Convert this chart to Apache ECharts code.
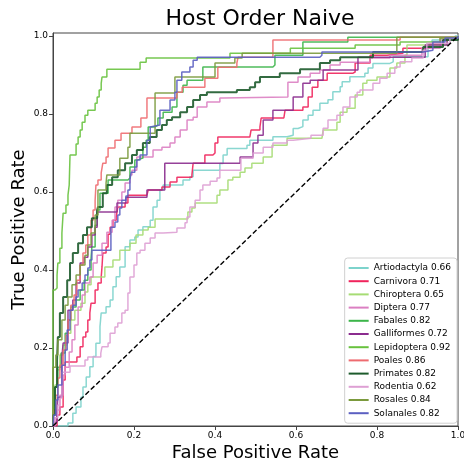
<!doctype html>
<html>
    <head>
        <meta charset="utf-8">
        <title>Host Order Naive</title>
        <style>
            html, body { margin: 0; padding: 0; background: #fff; }
            #main { width: 464px; height: 466px; }
        </style>
    </head>
    <body>
        <div id="main"></div>
        <script src="https://cdn.jsdelivr.net/npm/echarts@6/dist/echarts.min.js"></script>
        <script>
            // ROC curves, [fpr, tpr]
            var artiodactyla = [[0,0],[0.037,0.008],[0.049,0.033],[0.057,0.049],[0.069,0.074],[0.074,0.1],[0.082,0.126],[0.091,0.152],[0.099,0.178],[0.106,0.212],[0.116,0.255],[0.119,0.29],[0.131,0.306],[0.141,0.323],[0.148,0.357],[0.156,0.383],[0.165,0.408],[0.178,0.46],[0.19,0.477],[0.202,0.485],[0.21,0.503],[0.222,0.511],[0.24,0.528],[0.247,0.562],[0.257,0.579],[0.264,0.605],[0.272,0.618],[0.321,0.631],[0.338,0.639],[0.346,0.656],[0.412,0.673],[0.42,0.695],[0.43,0.712],[0.479,0.72],[0.486,0.733],[0.543,0.742],[0.578,0.746],[0.593,0.763],[0.605,0.768],[0.617,0.785],[0.63,0.797],[0.642,0.81],[0.659,0.828],[0.679,0.837],[0.691,0.857],[0.709,0.87],[0.714,0.883],[0.733,0.896],[0.77,0.905],[0.778,0.918],[0.79,0.93],[0.832,0.934],[0.84,0.947],[0.926,0.973],[0.936,0.99],[0.993,1],[1,1]];
            var carnivora = [[0,0],[0.01,0.028],[0.017,0.049],[0.025,0.118],[0.03,0.164],[0.059,0.177],[0.067,0.203],[0.074,0.228],[0.081,0.241],[0.086,0.272],[0.091,0.29],[0.094,0.315],[0.104,0.349],[0.111,0.367],[0.119,0.382],[0.121,0.408],[0.123,0.444],[0.131,0.459],[0.136,0.492],[0.141,0.51],[0.148,0.528],[0.156,0.536],[0.16,0.562],[0.178,0.572],[0.185,0.592],[0.232,0.597],[0.235,0.605],[0.269,0.613],[0.289,0.626],[0.306,0.638],[0.343,0.644],[0.346,0.674],[0.375,0.695],[0.395,0.7],[0.4,0.726],[0.407,0.741],[0.486,0.741],[0.489,0.759],[0.511,0.767],[0.514,0.79],[0.57,0.79],[0.573,0.81],[0.617,0.818],[0.63,0.844],[0.64,0.869],[0.654,0.887],[0.677,0.905],[0.741,0.908],[0.746,0.931],[0.783,0.951],[0.825,0.956],[0.864,0.969],[0.93,0.98],[0.956,0.995],[1,1]];
            var chiroptera = [[0,0],[0,0.054],[0.005,0.105],[0.01,0.144],[0.017,0.182],[0.025,0.208],[0.035,0.238],[0.044,0.272],[0.054,0.297],[0.069,0.315],[0.079,0.344],[0.086,0.362],[0.094,0.382],[0.128,0.408],[0.148,0.426],[0.165,0.451],[0.19,0.469],[0.205,0.49],[0.222,0.503],[0.235,0.51],[0.252,0.531],[0.333,0.549],[0.343,0.559],[0.351,0.572],[0.405,0.592],[0.412,0.605],[0.432,0.631],[0.444,0.638],[0.462,0.651],[0.474,0.662],[0.491,0.674],[0.519,0.69],[0.541,0.72],[0.578,0.738],[0.664,0.741],[0.667,0.759],[0.701,0.779],[0.709,0.805],[0.726,0.815],[0.746,0.849],[0.765,0.879],[0.775,0.887],[0.8,0.895],[0.832,0.918],[0.849,0.931],[0.869,0.951],[0.874,0.977],[0.973,0.995],[1,1]];
            var diptera = [[0,0],[0.005,0.021],[0.01,0.041],[0.017,0.079],[0.025,0.131],[0.03,0.151],[0.04,0.19],[0.047,0.221],[0.054,0.259],[0.062,0.305],[0.072,0.336],[0.079,0.367],[0.091,0.382],[0.099,0.418],[0.109,0.438],[0.121,0.469],[0.133,0.497],[0.146,0.528],[0.153,0.562],[0.16,0.579],[0.17,0.6],[0.178,0.623],[0.19,0.644],[0.195,0.656],[0.207,0.69],[0.247,0.708],[0.269,0.715],[0.289,0.726],[0.301,0.741],[0.314,0.759],[0.331,0.785],[0.346,0.792],[0.356,0.818],[0.38,0.831],[0.412,0.841],[0.42,0.844],[0.58,0.882],[0.605,0.895],[0.635,0.905],[0.659,0.913],[0.684,0.926],[0.709,0.933],[0.783,0.944],[0.832,0.951],[0.911,0.969],[0.956,0.99],[0.993,0.997],[1,1]];
            var fabales = [[0,0],[0.002,0.067],[0.005,0.1],[0.012,0.151],[0.02,0.187],[0.03,0.238],[0.037,0.272],[0.044,0.305],[0.057,0.323],[0.067,0.349],[0.077,0.374],[0.086,0.4],[0.094,0.431],[0.096,0.459],[0.104,0.515],[0.109,0.554],[0.116,0.597],[0.136,0.631],[0.185,0.636],[0.19,0.664],[0.202,0.682],[0.207,0.687],[0.222,0.715],[0.23,0.733],[0.235,0.767],[0.252,0.772],[0.259,0.79],[0.272,0.805],[0.294,0.818],[0.306,0.856],[0.321,0.874],[0.331,0.887],[0.37,0.921],[0.543,0.926],[0.548,0.951],[0.617,0.985],[0.728,0.997],[1,1]];
            var galliformes = [[0,0],[0.005,0.01],[0.01,0.041],[0.012,0.074],[0.022,0.177],[0.025,0.213],[0.037,0.297],[0.049,0.323],[0.057,0.367],[0.067,0.418],[0.077,0.433],[0.086,0.459],[0.096,0.49],[0.104,0.51],[0.109,0.549],[0.158,0.572],[0.18,0.587],[0.232,0.605],[0.276,0.674],[0.462,0.69],[0.494,0.726],[0.506,0.746],[0.519,0.785],[0.543,0.81],[0.593,0.844],[0.617,0.879],[0.635,0.887],[0.667,0.913],[0.753,0.946],[0.919,0.977],[0.973,0.995],[1,1]];
            var lepidoptera = [[0,0],[0,0.349],[0.005,0.354],[0.01,0.387],[0.012,0.418],[0.017,0.456],[0.022,0.495],[0.025,0.546],[0.032,0.567],[0.037,0.592],[0.04,0.618],[0.042,0.695],[0.057,0.723],[0.062,0.741],[0.067,0.759],[0.072,0.779],[0.079,0.797],[0.086,0.81],[0.104,0.828],[0.109,0.844],[0.114,0.862],[0.119,0.879],[0.121,0.895],[0.133,0.915],[0.215,0.933],[0.23,0.944],[0.437,0.956],[0.586,0.969],[0.746,0.977],[0.857,0.985],[0.956,0.995],[1,1]];
            var poales = [[0,0],[0.002,0.041],[0.007,0.079],[0.012,0.123],[0.017,0.156],[0.025,0.195],[0.032,0.233],[0.037,0.272],[0.044,0.31],[0.052,0.336],[0.059,0.374],[0.067,0.413],[0.074,0.444],[0.081,0.464],[0.086,0.49],[0.094,0.528],[0.099,0.554],[0.104,0.579],[0.106,0.618],[0.111,0.631],[0.119,0.649],[0.123,0.674],[0.131,0.69],[0.136,0.713],[0.153,0.733],[0.168,0.751],[0.195,0.767],[0.217,0.79],[0.232,0.841],[0.306,0.856],[0.319,0.869],[0.375,0.892],[0.407,0.92],[0.454,0.931],[0.457,0.946],[0.543,0.99],[0.857,0.997],[1,1]];
            var primates = [[0,0],[0,0.028],[0.005,0.1],[0.01,0.169],[0.012,0.228],[0.017,0.29],[0.025,0.331],[0.035,0.374],[0.042,0.418],[0.049,0.444],[0.062,0.469],[0.074,0.49],[0.084,0.51],[0.096,0.533],[0.109,0.554],[0.111,0.562],[0.123,0.597],[0.133,0.618],[0.146,0.638],[0.16,0.656],[0.178,0.674],[0.195,0.695],[0.207,0.708],[0.222,0.726],[0.239,0.741],[0.256,0.759],[0.269,0.772],[0.281,0.785],[0.294,0.792],[0.314,0.805],[0.331,0.818],[0.346,0.836],[0.363,0.849],[0.38,0.856],[0.454,0.862],[0.486,0.869],[0.499,0.882],[0.511,0.895],[0.56,0.905],[0.61,0.915],[0.659,0.931],[0.684,0.938],[0.709,0.946],[0.79,0.959],[0.914,0.972],[0.963,0.99],[1,1]];
            var rodentia = [[0,0],[0.005,0.021],[0.012,0.054],[0.017,0.072],[0.022,0.138],[0.042,0.154],[0.079,0.169],[0.086,0.177],[0.118,0.187],[0.121,0.203],[0.136,0.213],[0.141,0.238],[0.153,0.254],[0.16,0.264],[0.17,0.29],[0.178,0.297],[0.185,0.341],[0.19,0.382],[0.2,0.413],[0.207,0.444],[0.215,0.451],[0.227,0.469],[0.24,0.482],[0.252,0.495],[0.272,0.497],[0.306,0.508],[0.326,0.521],[0.331,0.536],[0.338,0.562],[0.351,0.579],[0.363,0.605],[0.37,0.618],[0.388,0.628],[0.405,0.636],[0.412,0.656],[0.464,0.687],[0.494,0.7],[0.519,0.715],[0.543,0.726],[0.578,0.733],[0.593,0.738],[0.637,0.746],[0.667,0.764],[0.679,0.785],[0.701,0.797],[0.716,0.818],[0.733,0.844],[0.751,0.856],[0.758,0.862],[0.79,0.879],[0.807,0.892],[0.825,0.905],[0.844,0.921],[0.857,0.934],[0.886,0.944],[0.914,0.964],[0.923,0.982],[0.98,0.995],[1,1]];
            var rosales = [[0,0],[0,0.151],[0.007,0.182],[0.012,0.221],[0.022,0.272],[0.03,0.31],[0.037,0.331],[0.047,0.362],[0.057,0.387],[0.067,0.413],[0.079,0.438],[0.086,0.464],[0.094,0.495],[0.104,0.541],[0.111,0.605],[0.131,0.623],[0.133,0.644],[0.165,0.687],[0.185,0.715],[0.19,0.751],[0.252,0.854],[0.301,0.895],[0.4,0.931],[0.449,0.944],[0.467,0.956],[0.849,0.997],[1,1]];
            var solanales = [[0,0],[0.002,0.028],[0.007,0.067],[0.012,0.105],[0.022,0.156],[0.03,0.195],[0.035,0.246],[0.042,0.297],[0.049,0.31],[0.057,0.331],[0.062,0.349],[0.072,0.367],[0.079,0.387],[0.086,0.405],[0.091,0.426],[0.096,0.451],[0.143,0.51],[0.153,0.523],[0.16,0.541],[0.165,0.559],[0.17,0.579],[0.18,0.59],[0.185,0.605],[0.19,0.631],[0.193,0.651],[0.202,0.664],[0.207,0.682],[0.215,0.695],[0.232,0.733],[0.24,0.767],[0.244,0.772],[0.264,0.81],[0.289,0.836],[0.301,0.856],[0.306,0.887],[0.318,0.908],[0.338,0.921],[0.346,0.938],[0.356,0.946],[0.659,0.951],[0.664,0.959],[0.914,0.964],[0.938,0.985],[0.968,0.995],[1,1]];

            var names = ['Artiodactyla', 'Carnivora', 'Chiroptera', 'Diptera', 'Fabales', 'Galliformes',
                'Lepidoptera', 'Poales', 'Primates', 'Rodentia', 'Rosales', 'Solanales'];
            var aucs = [0.66, 0.71, 0.65, 0.77, 0.82, 0.72, 0.92, 0.86, 0.82, 0.62, 0.84, 0.82];
            var curves = [artiodactyla, carnivora, chiroptera, diptera, fabales, galliformes,
                lepidoptera, poales, primates, rodentia, rosales, solanales];
            var colors = ['#7dd3cc', '#f0245c', '#a6dc74', '#db7fc2', '#3cb54a', '#8b2c8e',
                '#68c23e', '#ee6b70', '#1d5b2c', '#dea0d4', '#7b9a3d', '#5b5fc1'];
            var ticks = [0, 0.2, 0.4, 0.6, 0.8, 1.0];
            var chance = [[0, 0], [1, 1]];

            var font = 'DejaVu Sans';
            var chart = echarts.init(document.getElementById('main'), null, { renderer: 'canvas' });

            var series = curves.map(function (c, i) {
                return {
                    name: names[i] + ' ' + aucs[i].toFixed(2),
                    type: 'line',
                    step: 'end',
                    data: c,
                    symbol: 'none',
                    color: colors[i],
                    lineStyle: { width: names[i] === 'Primates' ? 2 : 1.5, opacity: 0.9 },
                    animation: false
                };
            });
            series.push({
                type: 'line',
                data: chance,
                symbol: 'none',
                silent: true,
                lineStyle: { color: '#000', width: 1.4, type: [5, 2.5] },
                animation: false
            });

            chart.setOption({
                backgroundColor: '#fff',
                animation: false,
                title: {
                    text: 'Host Order Naive',
                    left: 255,
                    top: 3,
                    textAlign: 'center',
                    textStyle: { fontFamily: font, fontSize: 22, fontWeight: 'normal', color: '#000' }
                },
                grid: {
                    left: 53, right: 6, top: 33, bottom: 40,
                    outerBoundsMode: 'none',
                    containLabel: false,
                    show: true, borderColor: '#444', borderWidth: 1, backgroundColor: '#fff'
                },
                legend: {
                    data: series.slice(0, 12).map(function (s) { return s.name; }),
                    orient: 'vertical',
                    right: 7,
                    top: 258,
                    icon: 'rect',
                    itemWidth: 20,
                    itemHeight: 2,
                    itemGap: 1.2,
                    padding: [4, 6, 4, 4],
                    backgroundColor: '#fff',
                    borderColor: '#d0d0d0',
                    borderWidth: 1,
                    borderRadius: 3,
                    textStyle: { fontFamily: font, fontSize: 9, color: '#000', lineHeight: 12 }
                },
                xAxis: {
                    type: 'value',
                    min: 0,
                    max: 1,
                    interval: 0.2,
                    name: 'False Positive Rate',
                    nameLocation: 'middle',
                    nameGap: 18,
                    nameMoveOverlap: false,
                    nameTextStyle: { fontFamily: font, fontSize: 18, color: '#000' },
                    axisLine: { show: true, lineStyle: { color: '#444' } },
                    axisTick: { show: true, length: 4, lineStyle: { color: '#444' } },
                    axisLabel: {
                        fontFamily: font, fontSize: 9, color: '#000', margin: 5,
                        formatter: function (v) { return v.toFixed(1); }
                    },
                    splitLine: { show: false }
                },
                yAxis: {
                    type: 'value',
                    min: 0,
                    max: 1.008,
                    name: 'True Positive Rate',
                    nameLocation: 'middle',
                    nameGap: 25,
                    nameMoveOverlap: false,
                    nameTextStyle: { fontFamily: font, fontSize: 18, color: '#000' },
                    axisLine: { show: true, lineStyle: { color: '#444' } },
                    axisTick: { show: true, length: 4, customValues: ticks, lineStyle: { color: '#444' } },
                    axisLabel: {
                        fontFamily: font, fontSize: 9, color: '#000', margin: 5,
                        customValues: ticks,
                        formatter: function (v) { return v.toFixed(1); }
                    },
                    splitLine: { show: false }
                },
                series: series
            });

            window.onresize = chart.resize;
        </script>
    </body>
</html>
